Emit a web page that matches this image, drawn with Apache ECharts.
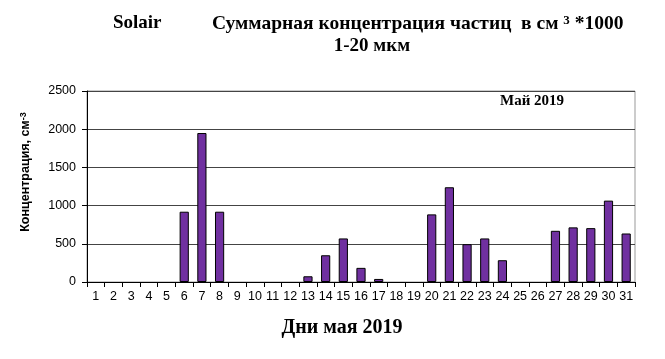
<!DOCTYPE html>
<html><head><meta charset="utf-8">
<script src="https://cdn.jsdelivr.net/npm/echarts@6/dist/echarts.min.js"></script>
<style>html,body{margin:0;padding:0;background:#fff}#c{width:665px;height:359px}</style>
</head><body><div id="c"></div>
<script>
var days = ['1','2','3','4','5','6','7','8','9','10','11','12','13','14','15','16','17','18','19','20','21','22','23','24','25','26','27','28','29','30','31'];
var concentration = [0,0,0,0,0,920,1950,920,0,0,0,0,75,350,570,185,40,0,0,885,1240,495,570,285,0,0,670,715,705,1065,635];
var yTicks = {min:0, max:2500, interval:500};

var barData = concentration.map(function(v){ return v === 0 ? null : v; });

var serif = 'Liberation Serif';
var chart = echarts.init(document.getElementById('c'), null, {renderer:'canvas'});
chart.setOption({
  animation:false,
  backgroundColor:'#fff',
  title:[
    {text:'Solair', left:108, top:9, textStyle:{fontFamily:serif, fontWeight:'bold', fontSize:19, color:'#000'}},
    {text:'{a|Суммарная концентрация частиц  в см }{s|3}{a| *1000}', left:207, top:9,
     textStyle:{rich:{a:{fontFamily:serif, fontWeight:'bold', fontSize:19.5, color:'#000'},
                      s:{fontFamily:serif, fontWeight:'bold', fontSize:13, color:'#000', verticalAlign:'top', padding:[0,0,7,0]}}}},
    {text:'1-20 мкм', left:367, textAlign:'center', top:32, textStyle:{fontFamily:serif, fontWeight:'bold', fontSize:19, color:'#000'}},
    {text:'Май 2019', left:495, top:89, textStyle:{fontFamily:serif, fontWeight:'bold', fontSize:15, color:'#000'}},
    {text:'Дни мая 2019', left:337, textAlign:'center', top:313, textStyle:{fontFamily:serif, fontWeight:'bold', fontSize:20, color:'#000'}}
  ],
  graphic:[
    {type:'text', x:26, y:172, rotation:Math.PI/2, style:{
      text:'{a|Концентрация, см}{s|-3}', align:'center', verticalAlign:'middle',
      rich:{a:{fontFamily:'Liberation Sans', fontWeight:'bold', fontSize:12.5, fill:'#000'},
            s:{fontFamily:'Liberation Sans', fontWeight:'bold', fontSize:9, fill:'#000', verticalAlign:'top'}}}}
  ],
  grid:{left:87, right:30, top:91, bottom:77, show:true, borderColor:'#999', borderWidth:1},
  xAxis:{type:'category', data:days, boundaryGap:true,
    axisLine:{lineStyle:{color:'#000', width:1}},
    axisTick:{show:true, alignWithLabel:false, length:5, lineStyle:{color:'#000'}},
    axisLabel:{fontFamily:'Liberation Sans', fontSize:12.5, color:'#000', margin:8, interval:0}},
  yAxis:{type:'value', min:yTicks.min, max:yTicks.max, interval:yTicks.interval,
    axisLine:{show:true, lineStyle:{color:'#000'}},
    axisTick:{show:true, length:5, lineStyle:{color:'#000'}},
    axisLabel:{fontFamily:'Liberation Sans', fontSize:12.5, color:'#000', margin:11, formatter:function(v){return String(v);}},
    splitLine:{lineStyle:{color:'#444', width:1}}},
  series:[{type:'bar', data:barData, barWidth:'52%',
    itemStyle:{color:'#7030A0', borderColor:'#000', borderWidth:1}}]
});
</script></body></html>
